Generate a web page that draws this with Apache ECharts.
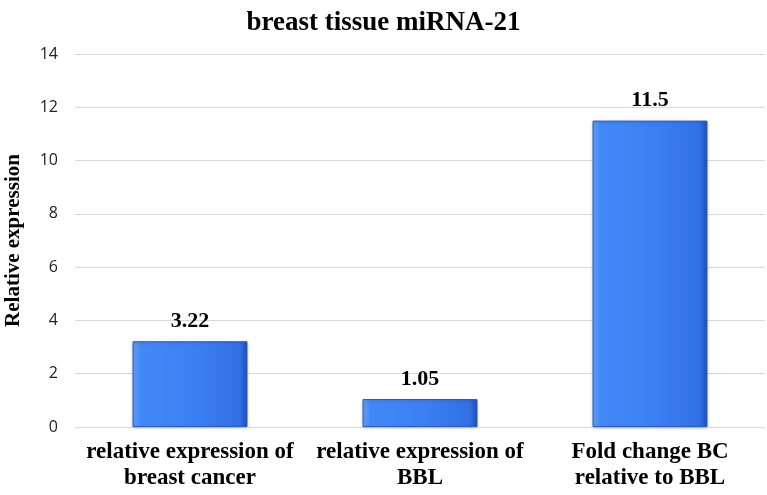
<!DOCTYPE html>
<html><head><meta charset="utf-8">
<script src="https://cdn.jsdelivr.net/npm/echarts@6/dist/echarts.min.js"></script>
<style>html,body{margin:0;padding:0;background:#fff}#c{width:767px;height:495px}</style>
</head><body><div id="c"></div>
<script>
const categories = ['relative expression of\nbreast cancer', 'relative expression of\nBBL', 'Fold change BC\nrelative to BBL'];
const values = [3.22, 1.05, 11.5];
const valueLabels = ['3.22', '1.05', '11.5'];
const yTicks = [0, 2, 4, 6, 8, 10, 12, 14];

const chart = echarts.init(document.getElementById('c'));
const serif = '"Liberation Serif", "DejaVu Serif", serif';
chart.setOption({
  animation: false,
  title: {
    text: 'breast tissue miRNA-21', left: 'center', top: 5,
    textStyle: { fontFamily: serif, fontWeight: 'bold', fontSize: 27, color: '#000' }
  },
  grid: { left: 75, right: 2, top: 54, bottom: 68, outerBoundsMode: 'none', containLabel: false },
  xAxis: {
    type: 'category', data: categories,
    axisLine: { lineStyle: { color: '#d9d9d9' } },
    axisTick: { show: false },
    axisLabel: { fontFamily: serif, fontWeight: 'bold', fontSize: 23, color: '#000', lineHeight: 26, margin: 12, interval: 0 }
  },
  yAxis: {
    type: 'value', min: yTicks[0], max: yTicks[yTicks.length - 1], interval: 2,
    name: 'Relative expression', nameLocation: 'middle', nameGap: 51,
    nameTextStyle: { fontFamily: serif, fontWeight: 'bold', fontSize: 21, color: '#000' },
    axisLine: { show: false }, axisTick: { show: false },
    axisLabel: { fontFamily: '"Open Sans", "Liberation Sans", sans-serif', fontSize: 16, color: '#222', margin: 17 },
    splitLine: { lineStyle: { color: '#d9d9d9' } }
  },
  series: [{
    type: 'bar', barWidth: '50%',
    data: values,
    itemStyle: {
      color: new echarts.graphic.LinearGradient(0, 0, 1, 0, [
        { offset: 0, color: '#62a0f8' },
        { offset: 0.07, color: '#4388f6' },
        { offset: 0.5, color: '#3d80f5' },
        { offset: 0.93, color: '#3270e6' },
        { offset: 1, color: '#1f50b8' }
      ]),
      borderColor: '#2a5ec8', borderWidth: 1,
      shadowColor: 'rgba(0,0,0,0.2)', shadowBlur: 3, shadowOffsetY: 1
    },
    label: {
      show: true, position: 'top', distance: 9,
      formatter: p => valueLabels[p.dataIndex],
      fontFamily: serif, fontWeight: 'bold', fontSize: 22, color: '#000'
    }
  }]
});
</script></body></html>
